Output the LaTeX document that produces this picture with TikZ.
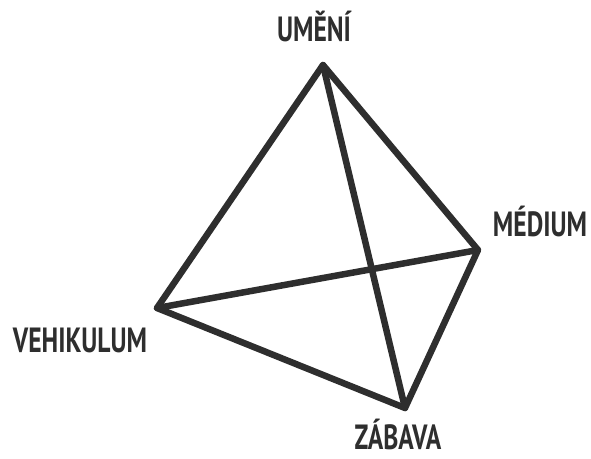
\documentclass[tikz,border=0pt]{standalone}
\usepackage{fontspec}
\setmainfont{PT Sans}
\definecolor{ink}{HTML}{2E2E2E}
\begin{document}
\begin{tikzpicture}[x=1pt,y=1pt,
  edge/.style={draw=ink,line width=6.5pt,line join=round,line cap=round},
  lbl/.style={text=ink,font=\bfseries\fontsize{35}{35}\selectfont,anchor=base,inner sep=0pt,xscale=0.73}]
\useasboundingbox (0,0) rectangle (591,458);
\coordinate (T) at (323,393);
\coordinate (R) at (478,208);
\coordinate (L) at (157,150);
\coordinate (B) at (405,50);
\draw[edge] (T) -- (L) -- (B) -- (R) -- cycle;
\draw[edge] (T) -- (B);
\draw[edge] (L) -- (R);
\node[lbl] (tU) at (314,416) {UMĚNÍ};
\node[lbl] (tM) at (540,221) {MÉDIUM};
\node[lbl] (tV) at (80,106) {VEHIKULUM};
\node[lbl] (tZ) at (398,9) {ZÁBAVA};
\end{tikzpicture}
\end{document}
